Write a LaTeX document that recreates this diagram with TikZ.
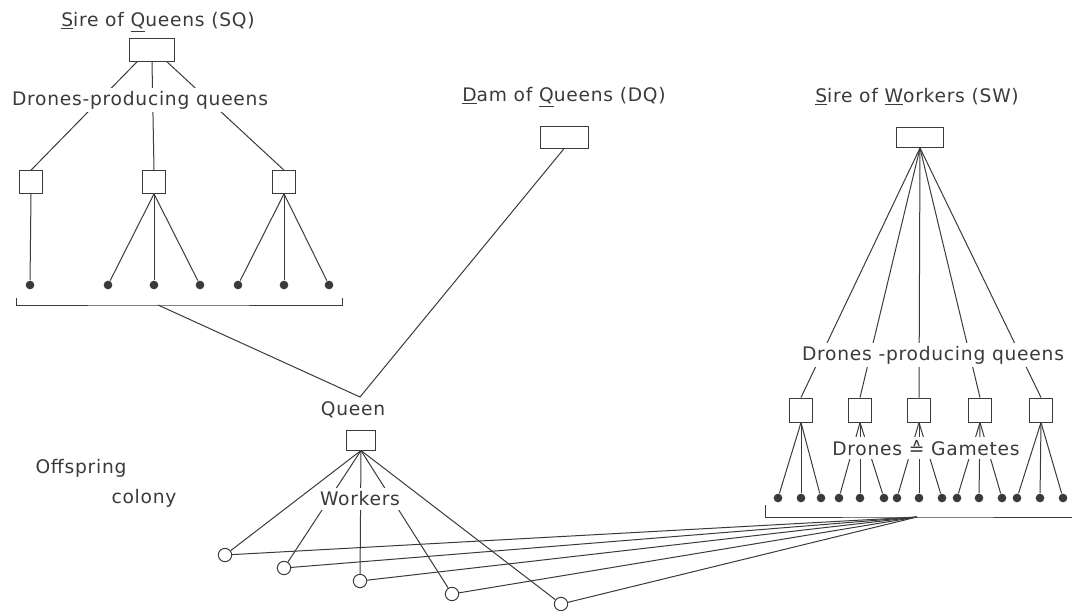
\documentclass[tikz,border=0pt]{standalone}
\usepackage{fontspec}
\setmainfont{DejaVu Sans}[LetterSpace=4]
\usepackage{xcolor}
\usepackage{tikz}
\usetikzlibrary{calc}
\definecolor{ink}{HTML}{3A3A3A}

\begin{document}
\begin{tikzpicture}[x=0.75pt, y=-0.75pt, line width=0.75pt, color=ink,
  parentbox/.style={draw, minimum width=35pt, minimum height=16pt, inner sep=0pt},
  queenbox/.style={draw, minimum width=17pt, minimum height=17pt, inner sep=0pt},
  drone/.style={circle, fill=ink, inner sep=0pt, minimum size=6.5pt},
  worker/.style={circle, draw, fill=white, inner sep=0pt, minimum size=10pt},
  lbl/.style={font=\fontsize{14}{16}\selectfont, inner sep=1pt},
  gaplbl/.style={lbl, fill=white, inner sep=2.5pt}]
  \useasboundingbox (0,0) rectangle (1072,611);

  % sire of queens and its daughters
  \node[parentbox, minimum width=34pt, minimum height=17pt] (sq) at (152,50) {};
  \node[queenbox] (q1) at (31,182) {};
  \node[queenbox] (q2) at (154,182) {};
  \node[queenbox] (q3) at (284,182) {};
  \draw ($(sq.south)+(-15,0)$) -- (q1.north);
  \draw (sq.south) -- (q2.north);
  \draw ($(sq.south)+(15,0)$) -- (q3.north);
  \node[drone] (d1) at (30,285) {};
  \node[drone] (d2) at (108,285) {};
  \node[drone] (d3) at (154,285) {};
  \node[drone] (d4) at (200,285) {};
  \node[drone] (d5) at (238,285) {};
  \node[drone] (d6) at (284,285) {};
  \node[drone] (d7) at (329,285) {};
  \draw (q1.south) -- (d1);
  \draw (q2.south) -- (d2);
  \draw (q2.south) -- (d3);
  \draw (q2.south) -- (d4);
  \draw (q3.south) -- (d5);
  \draw (q3.south) -- (d6);
  \draw (q3.south) -- (d7);
  \coordinate (sqmid) at (158,305);
  \draw (16,298) -- (16,305) -- (sqmid) -- (342,305) -- (342,298);
  \node[lbl] (sqlab) at (158,22) {\underline{S}ire of \underline{Q}ueens (SQ)};
  \node[gaplbl] (dpqleft) at (140,100) {Drones-producing queens};

  % dam of queens and the queen
  \node[parentbox, minimum width=36pt] (dq) at (564,137.5) {};
  \node[lbl] (dqlab) at (564,97) {\underline{D}am of \underline{Q}ueens (DQ)};
  \coordinate (mating) at (360,397);
  \draw (sqmid) -- (mating) -- (dq.south);
  \node[parentbox, minimum width=22pt, minimum height=15pt] (queen) at (361,440) {};
  \node[lbl] (queenlab) at (353,410) {Queen};

  % sire of workers
  \node[parentbox, minimum width=35pt, minimum height=15pt] (sw) at (920,137.5) {};
  \node[lbl] (swlab) at (917,97) {\underline{S}ire of \underline{W}orkers (SW)};
  \node[queenbox, minimum height=18pt] (p1) at (801,410) {};
  \node[queenbox, minimum height=18pt] (p2) at (860,410) {};
  \node[queenbox, minimum height=18pt] (p3) at (919,410) {};
  \node[queenbox, minimum height=18pt] (p4) at (980,410) {};
  \node[queenbox, minimum height=18pt] (p5) at (1041,410) {};
  \draw (sw.south) -- (p1.north);
  \draw (sw.south) -- (p2.north);
  \draw (sw.south) -- (p3.north);
  \draw (sw.south) -- (p4.north);
  \draw (sw.south) -- (p5.north);
  \node[gaplbl] (dpqright) at (933,355) {Drones -producing queens};
  \node[drone] (g1) at (778,498) {};
  \node[drone] (g2) at (801,498) {};
  \node[drone] (g3) at (821,498) {};
  \node[drone] (g4) at (839,498) {};
  \node[drone] (g5) at (860,498) {};
  \node[drone] (g6) at (884,498) {};
  \node[drone] (g7) at (897,498) {};
  \node[drone] (g8) at (919,498) {};
  \node[drone] (g9) at (942,498) {};
  \node[drone] (g10) at (957,498) {};
  \node[drone] (g11) at (979,498) {};
  \node[drone] (g12) at (1002,498) {};
  \node[drone] (g13) at (1017,498) {};
  \node[drone] (g14) at (1040,498) {};
  \node[drone] (g15) at (1063,498) {};
  \draw (p1.south) -- (g1);
  \draw (p1.south) -- (g2);
  \draw (p1.south) -- (g3);
  \draw (p2.south) -- (g4);
  \draw (p2.south) -- (g5);
  \draw (p2.south) -- (g6);
  \draw (p3.south) -- (g7);
  \draw (p3.south) -- (g8);
  \draw (p3.south) -- (g9);
  \draw (p4.south) -- (g10);
  \draw (p4.south) -- (g11);
  \draw (p4.south) -- (g12);
  \draw (p5.south) -- (g13);
  \draw (p5.south) -- (g14);
  \draw (p5.south) -- (g15);
  \node[gaplbl] (gamlab) at (926,448) {Drones ≙ Gametes};
  \coordinate (swmid) at (917,517);
  \draw (765,505) -- (765,517) -- (swmid) -- (1072,517);

  % offspring colony
  \node[worker] (w1) at (225,555) {};
  \node[worker] (w2) at (284,568) {};
  \node[worker] (w3) at (360,581) {};
  \node[worker] (w4) at (452,594) {};
  \node[worker] (w5) at (561,604) {};
  \draw (queen.south) -- (w1);
  \draw (queen.south) -- (w2);
  \draw (queen.south) -- (w3);
  \draw (queen.south) -- (w4);
  \draw (queen.south) -- (w5);
  \draw (w1) -- (swmid);
  \draw (w2) -- (swmid);
  \draw (w3) -- (swmid);
  \draw (w4) -- (swmid);
  \draw (w5) -- (swmid);
  \node[gaplbl] (worklab) at (360,499) {Workers};
  \node[lbl] (offlab) at (81,468) {Offspring};
  \node[lbl] (collab) at (144,498) {colony};
\end{tikzpicture}
\end{document}
